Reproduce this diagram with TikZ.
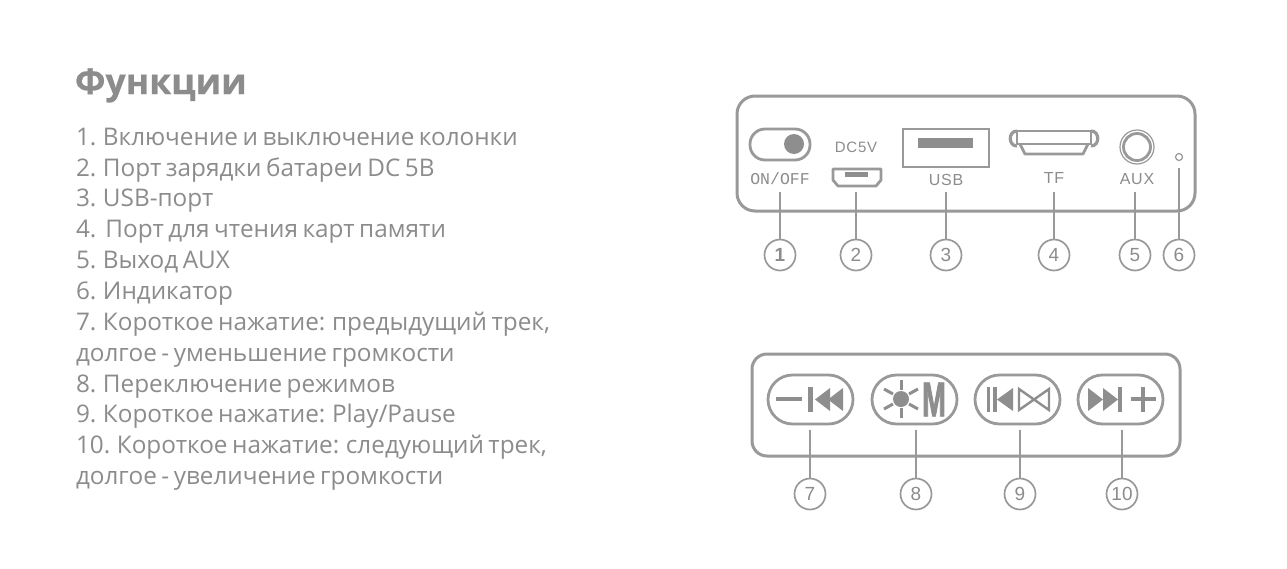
\documentclass[tikz,border=0pt]{standalone}
\usepackage{fontspec}
\setmainfont{Open Sans}[WordSpace=0.72,BoldFeatures={FakeBold=0.6}]
\newfontfamily\labelfont{Liberation Sans}[LetterSpace=5]
\newfontfamily\numfont{Liberation Sans}
\newfontfamily\monofont{Liberation Mono}
\newfontfamily\iconfont{Liberation Sans}[BoldFeatures={FakeStretch=0.58,FakeBold=1.5}]
\definecolor{textgray}{HTML}{8C8C8C}
\definecolor{linegray}{HTML}{999999}
\definecolor{fillgray}{HTML}{8E8E8E}
\tikzset{
  every node/.style={inner sep=0pt,outer sep=0pt},
  listline/.style={anchor=base west,text=textgray,font=\fontsize{24.3}{28}\selectfont},
  titleline/.style={anchor=base west,text=textgray,font=\fontsize{35.5}{40}\selectfont\bfseries},
  panel/.style={draw=linegray,line width=3pt},
  thinline/.style={draw=linegray,line width=2.8pt},
  icon/.style={fill=fillgray},
  thickicon/.style={draw=fillgray,line width=3pt},
  btnbox/.style={draw=linegray,line width=2.8pt,rounded corners=24.5pt},
  portlabel/.style={text=textgray,font=\labelfont\fontsize{16}{18}\selectfont},
  numcircle/.style={circle,draw=linegray,line width=1.7pt,minimum size=31pt,text=textgray,font=\numfont\fontsize{19}{20}\selectfont},
  leader/.style={draw=linegray,line width=1.7pt}
}
\begin{document}
\begin{tikzpicture}[x=1pt,y=-1pt]
\useasboundingbox (0,0) rectangle (1287,568);
\fill[white] (0,0) rectangle (1287,568);
\node[titleline] (title) at (75,94) {Функции};
\node[listline] (t1) at (76,145) {1. Включение и выключение колонки};
\node[listline] (t2) at (76,176) {2. Порт зарядки батареи DC 5В};
\node[listline] (t3) at (76,206) {3. USB-порт};
\node[listline] (t4) at (76,237) {4.\ \ Порт для чтения карт памяти};
\node[listline] (t5) at (76,268) {5. Выход AUX};
\node[listline] (t6) at (76,299) {6. Индикатор};
\node[listline] (t7) at (76,330) {7. Короткое нажатие: предыдущий трек,};
\node[listline] (t7b) at (76,361) {долгое - уменьшение громкости};
\node[listline] (t8) at (76,392) {8. Переключение режимов};
\node[listline] (t9) at (76,422) {9. Короткое нажатие: Play/Pause};
\node[listline] (t10) at (76,453) {10. Короткое нажатие: следующий трек,};
\node[listline] (t10b) at (76,484) {долгое - увеличение громкости};
\draw[panel,rounded corners=18pt] (737,96) rectangle (1195,211);
\draw[thinline,rounded corners=15pt] (750,129) rectangle (810,160);
\fill[icon] (794,144) circle (10);
\node[portlabel,font=\monofont\fontsize{16.5}{18}\selectfont] (onoff) at (780,179) {ON/OFF};
\node[portlabel,font=\labelfont\fontsize{15}{18}\selectfont] (dc) at (856,147) {DC5V};
\draw[thinline,line join=round] (833,169) -- (881,169) -- (881,180) -- (876,186) -- (838,186) -- (833,180) -- cycle;
\fill[icon] (845,172) rectangle (868,177);
\draw[thinline] (903,129) rectangle (989,167);
\fill[icon] (918,138) rectangle (973,148);
\node[portlabel] (usb) at (946,180) {USB};
\draw[thinline,line join=round] (1017,131) -- (1091,131) -- (1091,144) -- (1017,144) -- cycle;
\draw[thinline,line width=3.2pt] (1017,131) .. controls (1008,131) and (1008,146) .. (1017,146);
\draw[thinline,line width=3.2pt] (1091,131) .. controls (1100,131) and (1100,146) .. (1091,146);
\draw[thinline,line join=round] (1020,144) -- (1025,154) -- (1083,154) -- (1088,144);
\node[portlabel] (tf) at (1054,178) {TF};
\draw[thinline,line width=1.2pt] (1137,147) circle (17);
\draw[thinline,line width=2.8pt] (1137,147) circle (13.5);
\node[portlabel] (aux) at (1137,179) {AUX};
\node[circle,draw=linegray,line width=1.2pt,minimum size=7pt] (led) at (1179,157) {};
\coordinate (c1) at (780,192);
\coordinate (c2) at (856,192);
\coordinate (c3) at (946,192);
\coordinate (c4) at (1054,192);
\coordinate (c5) at (1135,192);
\coordinate (c6) at (1179,168);
\node[numcircle,font=\numfont\bfseries\fontsize{19}{20}\selectfont] (n1) at (780,255) {1};
\node[numcircle] (n2) at (856,255) {2};
\node[numcircle] (n3) at (946,255) {3};
\node[numcircle] (n4) at (1054,255) {4};
\node[numcircle] (n5) at (1135,255) {5};
\node[numcircle] (n6) at (1179,255) {6};
\draw[leader] (c1) -- (n1);
\draw[leader] (c2) -- (n2);
\draw[leader] (c3) -- (n3);
\draw[leader] (c4) -- (n4);
\draw[leader] (c5) -- (n5);
\draw[leader] (c6) -- (n6);
\draw[panel,rounded corners=15pt] (752,354) rectangle (1180,456);
\draw[btnbox] (768,375) rectangle (853,424);
\draw[btnbox] (872,375) rectangle (957,424);
\draw[btnbox] (975,375) rectangle (1060,424);
\draw[btnbox] (1078,375) rectangle (1163,424);
\fill[icon] (776,397) rectangle (802,401);
\fill[icon] (808,387) rectangle (813,412);
\fill[icon] (815,399.5) -- (830,388) -- (830,411) -- cycle;
\fill[icon] (828,399.5) -- (843,388) -- (843,411) -- cycle;
\fill[icon] (901,399) circle (8);
\draw[thickicon] (901,380) -- (901,390);
\draw[thickicon] (901,408) -- (901,418);
\draw[thickicon] (884,389) -- (893,394);
\draw[thickicon] (909,394) -- (918,389);
\draw[thickicon] (884,409) -- (893,404);
\draw[thickicon] (909,404) -- (918,409);
\node[text=fillgray,font=\iconfont\bfseries\fontsize{49}{50}\selectfont] (modem) at (934,399.5) {M};
\fill[icon] (987,387) rectangle (990,412);
\fill[icon] (993,387) rectangle (997,412);
\fill[icon] (997,399.5) -- (1013,388) -- (1013,411) -- cycle;
\draw[thickicon,line width=2.4pt,line join=miter] (1019,389) -- (1049,410) -- (1049,389) -- (1019,410) -- cycle;
\fill[icon] (1088,388) -- (1103,399.5) -- (1088,411) -- cycle;
\fill[icon] (1103,388) -- (1118,399.5) -- (1103,411) -- cycle;
\fill[icon] (1118,387) rectangle (1122,412);
\fill[icon] (1131,397) rectangle (1156,401);
\fill[icon] (1141,387) rectangle (1145,412);
\coordinate (c7) at (810,430);
\coordinate (c8) at (916,430);
\coordinate (c9) at (1020,430);
\coordinate (c10) at (1122,430);
\node[numcircle] (n7) at (810,494) {7};
\node[numcircle] (n8) at (916,494) {8};
\node[numcircle] (n9) at (1020,494) {9};
\node[numcircle] (n10) at (1122,494) {10};
\draw[leader] (c7) -- (n7);
\draw[leader] (c8) -- (n8);
\draw[leader] (c9) -- (n9);
\draw[leader] (c10) -- (n10);
\end{tikzpicture}
\end{document}
